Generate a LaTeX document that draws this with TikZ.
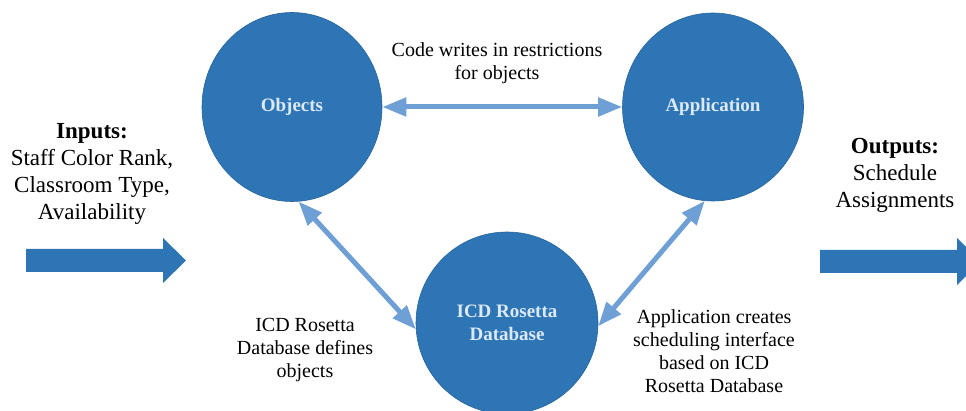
\documentclass[tikz,border=0pt]{standalone}
\usepackage{fontspec}
\setmainfont{Liberation Serif}
\usetikzlibrary{arrows.meta,shapes.geometric}
\definecolor{nodeblue}{HTML}{2E75B6}
\definecolor{nodetext}{HTML}{DCE9F6}
\definecolor{linkblue}{HTML}{6E9FD5}
\begin{document}
\begin{tikzpicture}[x=1pt,y=-1pt,
  bubble/.style={ellipse, fill=nodeblue, draw=nodeblue!85!black, line width=0.6pt,
    inner sep=0pt, text=nodetext, align=center,
    font=\fontsize{19}{23}\selectfont\bfseries},
  note/.style={align=center, inner sep=0pt, font=\fontsize{20}{23}\selectfont},
  bignote/.style={align=center, inner sep=0pt, font=\fontsize{23}{27}\selectfont},
  link/.style={linkblue, line width=5pt,
    {Triangle[length=24pt,width=18pt]}-{Triangle[length=24pt,width=18pt]}},
  blockarrow/.style={fill=nodeblue}]
  % page frame
  \clip (0,0) rectangle (966,411);
  \fill[white] (0,0) rectangle (966,411);

  % the three components
  \node[bubble, minimum width=180pt, minimum height=189pt] (obj) at (292,107) {Objects};
  \node[bubble, minimum width=181pt, minimum height=188pt] (app) at (713,107) {Application};
  \node[bubble, minimum width=182pt, minimum height=182pt] (icd) at (507,323) {ICD Rosetta\\Database};

  % relations between components
  \draw[link] (obj.east) -- (app.west);
  \draw[link] (obj.-86) -- (icd.184);
  \draw[link] (app.-95) -- (icd.-2);

  % relation labels
  \node[note] (codelbl) at (497,63) {Code writes in restrictions\\for objects};
  \node[note] (deflbl) at (305,350) {ICD Rosetta\\Database defines\\objects};
  \node[note] (applbl) at (714,351) {Application creates\\scheduling interface\\based on ICD\\Rosetta Database};

  % inputs and outputs
  \node[bignote] (inlbl) at (92,174) {\textbf{Inputs:}\\Staff Color Rank,\\Classroom Type,\\Availability};
  \node[bignote] (outlbl) at (895,175) {\textbf{Outputs:}\\Schedule\\Assignments};

  \fill[blockarrow] (26,249) -- (163,249) -- (163,238) -- (186,260.5) -- (163,283)
    -- (163,272) -- (26,272) -- cycle;
  \fill[blockarrow] (820,250) -- (957,250) -- (957,238) -- (981,261.5) -- (957,285)
    -- (957,273) -- (820,273) -- cycle;
\end{tikzpicture}
\end{document}
